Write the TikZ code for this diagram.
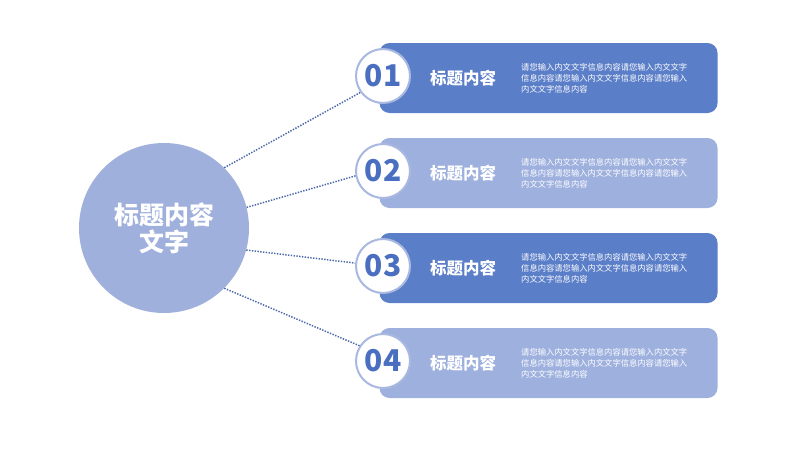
\documentclass[tikz,border=0pt]{standalone}
\usepackage{fontspec}
\newfontfamily\cjk{Noto Sans CJK SC}
\usetikzlibrary{positioning}
\definecolor{darkbox}{RGB}{91,126,200}
\definecolor{lightbox}{RGB}{158,176,222}
\definecolor{hubfill}{RGB}{160,176,220}
\definecolor{ringblue}{RGB}{168,184,224}
\definecolor{numblue}{RGB}{74,111,192}
\definecolor{dotblue}{RGB}{78,106,170}

\tikzset{
  itembox/.style={rounded corners=10pt,minimum width=338pt,minimum height=70pt,inner sep=0pt},
  numring/.style={circle,draw=ringblue,line width=2pt,fill=white,minimum size=54pt,inner sep=0pt,
    text=numblue,font=\cjk\bfseries\fontsize{30}{30}\selectfont},
  itemtitle/.style={text=white,font=\cjk\bfseries\fontsize{16.5}{16.5}\selectfont},
  itembody/.style={text=white,align=left,anchor=west,inner sep=0pt,font=\cjk\fontsize{8.3}{11}\selectfont},
  link/.style={dotblue,line width=1.5pt,dash pattern=on 1.4pt off 1.4pt}
}

\begin{document}
\begin{tikzpicture}[x=1pt,y=-1pt]
\fill[white] (0,0) rectangle (800,450);
\useasboundingbox (0,0) rectangle (800,450);
% centre circle
\node[circle,fill=hubfill,minimum size=170pt,inner sep=0pt,align=center,text=white,
  font=\cjk\bfseries\fontsize{25}{27}\selectfont] (hub) at (164,228) {标题内容\\文字};
% bars
\node[itembox,fill=darkbox] (box1) at (548.5,78) {};
\node[itembox,fill=lightbox] (box2) at (548.5,173) {};
\node[itembox,fill=darkbox] (box3) at (548.5,268) {};
\node[itembox,fill=lightbox] (box4) at (548.5,363) {};
% numbers
\node[numring] (num1) at (383,76) {01};
\node[numring] (num2) at (383,171) {02};
\node[numring] (num3) at (383,266) {03};
\node[numring] (num4) at (383,361) {04};
% titles
\node[itemtitle] (title1) at (463,78) {标题内容};
\node[itemtitle] (title2) at (463,173) {标题内容};
\node[itemtitle] (title3) at (463,268) {标题内容};
\node[itemtitle] (title4) at (463,363) {标题内容};
% texts
\node[itembody] (body1) at (521,78.5) {请您输入内文文字信息内容请您输入内文文字\\信息内容请您输入内文文字信息内容请您输入\\内文文字信息内容};
\node[itembody] (body2) at (521,173.5) {请您输入内文文字信息内容请您输入内文文字\\信息内容请您输入内文文字信息内容请您输入\\内文文字信息内容};
\node[itembody] (body3) at (521,268.5) {请您输入内文文字信息内容请您输入内文文字\\信息内容请您输入内文文字信息内容请您输入\\内文文字信息内容};
\node[itembody] (body4) at (521,363.5) {请您输入内文文字信息内容请您输入内文文字\\信息内容请您输入内文文字信息内容请您输入\\内文文字信息内容};
% dotted links
\draw[link] (hub.45) -- (num1.216);
\draw[link] (hub.14) -- (num2.190);
\draw[link] (hub.-15) -- (num3.174);
\draw[link] (hub.-45) -- (num4.147);
\end{tikzpicture}
\end{document}
